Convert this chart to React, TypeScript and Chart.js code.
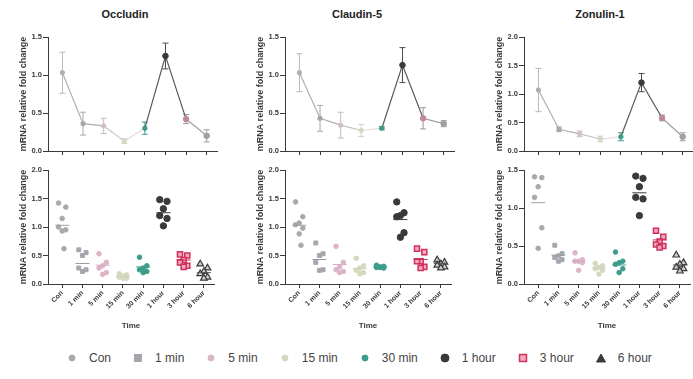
import React, { useEffect, useRef } from "react";
import { Chart, registerables } from "chart.js";
Chart.register(...registerables);

const FONT = "'Liberation Sans', Arial, sans-serif";
Chart.defaults.font.family = FONT;

const CATEGORIES = ["Con", "1 min", "5 min", "15 min", "30 min", "1 hour", "3 hour", "6 hour"];
const GENES = ["Occludin", "Claudin-5", "Zonulin-1"];
const Y_TITLE = "mRNA relative fold change";
const X_TITLE = "Time";

// Top panels: mean and error (line with error bars)
const OCC_MEAN = [1.03, 0.36, 0.33, 0.13, 0.3, 1.25, 0.42, 0.2];
const OCC_ERR = [0.27, 0.15, 0.1, 0.03, 0.08, 0.17, 0.06, 0.08];
const CLA_MEAN = [1.03, 0.43, 0.34, 0.27, 0.3, 1.13, 0.43, 0.36];
const CLA_ERR = [0.25, 0.17, 0.17, 0.08, 0.02, 0.23, 0.14, 0.04];
const ZON_MEAN = [1.07, 0.38, 0.3, 0.21, 0.25, 1.2, 0.58, 0.25];
const ZON_ERR = [0.38, 0.04, 0.05, 0.05, 0.07, 0.16, 0.05, 0.07];

// Bottom panels: individual values
const OCC_POINTS = [
  [1.42, 1.35, 1.15, 1.0, 0.95, 0.93, 0.62],
  [0.6, 0.55, 0.5, 0.28, 0.25, 0.22],
  [0.53, 0.38, 0.32, 0.28, 0.2, 0.17],
  [0.18, 0.16, 0.14, 0.12, 0.1, 0.1],
  [0.47, 0.32, 0.28, 0.25, 0.22, 0.2],
  [1.48, 1.45, 1.32, 1.2, 1.15, 1.02],
  [0.52, 0.5, 0.42, 0.38, 0.32, 0.3],
  [0.35, 0.28, 0.22, 0.18, 0.12, 0.1],
];
const CLA_POINTS = [
  [1.44, 1.18, 1.07, 1.04, 0.98, 0.88, 0.68],
  [0.72, 0.53, 0.5, 0.38, 0.25, 0.24],
  [0.66, 0.38, 0.3, 0.25, 0.22, 0.2],
  [0.45, 0.32, 0.28, 0.24, 0.2, 0.18],
  [0.33, 0.31, 0.3, 0.29, 0.28, 0.29],
  [1.44, 1.25, 1.2, 1.18, 0.9, 0.82],
  [0.62, 0.56, 0.4, 0.4, 0.3, 0.28],
  [0.42, 0.38, 0.35, 0.33, 0.3, 0.28],
];
const ZON_POINTS = [
  [1.41, 1.4, 1.28, 1.14, 0.74, 0.47],
  [0.51, 0.4, 0.37, 0.35, 0.32, 0.3],
  [0.41, 0.32, 0.3, 0.3, 0.28, 0.18],
  [0.27, 0.24, 0.22, 0.2, 0.18, 0.13],
  [0.42, 0.3, 0.28, 0.26, 0.2, 0.15],
  [1.42, 1.39, 1.28, 1.14, 1.12, 0.9],
  [0.7, 0.62, 0.56, 0.52, 0.5, 0.48],
  [0.38, 0.28, 0.26, 0.22, 0.2, 0.17],
];

const TOP_Y_MAX = [1.5, 1.5, 2.0];
const BOTTOM_Y_MAX = [2.0, 2.0, 1.5];

// styles
const AXIS = "#3a3a3a";
type Sty = { shape: string; r: number; fill: string; stroke: string; bw: number };
const STYLES: Sty[] = [
  { shape: "circle", r: 2.3, fill: "#a9a9a9", stroke: "#a9a9a9", bw: 1 },
  { shape: "rect", r: 2.8, fill: "#a6a6ae", stroke: "#a6a6ae", bw: 1 },
  { shape: "circle", r: 2.3, fill: "#dcb4c8", stroke: "#dcb4c8", bw: 1 },
  { shape: "circle", r: 2.3, fill: "#d6d8c0", stroke: "#d6d8c0", bw: 1 },
  { shape: "circle", r: 2.3, fill: "#3c9c8c", stroke: "#3c9c8c", bw: 1 },
  { shape: "circle", r: 3.2, fill: "#3a3a3a", stroke: "#3a3a3a", bw: 1 },
  { shape: "rect", r: 3.6, fill: "#f2a8bd", stroke: "#d0305c", bw: 1.5 },
  { shape: "triangle", r: 3.8, fill: "#cfcfcf", stroke: "#3a3a3a", bw: 1.2 },
];
const TOP_POINT_COLORS = ["#b0b0b0", "#a6a6ae", "#d0c0c8", "#d6d8c0", "#3c9c8c", "#3a3a3a", "#c08898", "#a0a0a0"];
const MEAN_COLORS = ["#a0a0a0", "#9a9aa2", "#d4a8bc", "#cfd0b8", "#3c9c8c", "#3a3a3a", "#d0305c", "#555555"];
const SEG_COLORS = ["#b0b0b0", "#b0b0b0", "#c4c4c4", "#ead8de", "#5a5a5a", "#5a5a5a", "#a0a0a0"];
const ERR_COLORS = ["#b8b8b8", "#a8a8b0", "#c8b8c0", "#d0d0c4", "#3c9c8c", "#4a4a4a", "#9a9a9a", "#a0a0a0"];
const JITTER = [-0.18, 0.18, 0, -0.18, 0.18, 0, 0.09];

const COL_LEFT = [18, 255, 494];
const Y_AXIS_W = 30;
const CANVAS_W = 204;

function xScale(showLabels: boolean, height: number) {
  return {
    type: "linear",
    min: -0.7,
    max: 7.5,
    afterBuildTicks: (s: any) => {
      s.ticks = CATEGORIES.map((_, i) => ({ value: i }));
    },
    afterFit: (s: any) => {
      s.height = height;
    },
    ticks: {
      display: showLabels,
      autoSkip: false,
      minRotation: 45,
      maxRotation: 45,
      padding: 1,
      color: AXIS,
      font: { size: 7, weight: "bold" },
      callback: (v: any) => CATEGORIES[v],
    },
    grid: { drawOnChartArea: false, drawTicks: true, tickLength: 4, color: AXIS, lineWidth: 1 },
    border: { display: true, color: AXIS, width: 1 },
    title: {
      display: showLabels,
      text: X_TITLE,
      color: AXIS,
      font: { size: 8, weight: "bold" },
      padding: { top: 4, bottom: 6 },
    },
  };
}

function yScale(max: number) {
  return {
    min: 0,
    max,
    afterFit: (s: any) => {
      s.width = Y_AXIS_W;
    },
    ticks: {
      stepSize: 0.5,
      padding: 1,
      color: AXIS,
      font: { size: 7.5, weight: "bold" },
      callback: (v: any) => Number(v).toFixed(1),
    },
    grid: { drawOnChartArea: false, drawTicks: true, tickLength: 5, color: AXIS, lineWidth: 1 },
    border: { display: true, color: AXIS, width: 1 },
    title: {
      display: true,
      text: Y_TITLE,
      color: AXIS,
      font: { size: 9, weight: "bold" },
      padding: { top: 0, bottom: 0 },
    },
  };
}

function errorBarPlugin(errs: number[]) {
  return {
    id: "errorBars",
    beforeDatasetsDraw(chart: any) {
      const meta = chart.getDatasetMeta(0);
      const y = chart.scales.y;
      const ctx = chart.ctx;
      const data = chart.data.datasets[0].data;
      ctx.save();
      ctx.lineWidth = 1;
      meta.data.forEach((pt: any, i: number) => {
        const v = data[i].y;
        const top = y.getPixelForValue(v + errs[i]);
        const bot = y.getPixelForValue(Math.max(0, v - errs[i]));
        ctx.strokeStyle = ERR_COLORS[i];
        ctx.beginPath();
        ctx.moveTo(pt.x, top);
        ctx.lineTo(pt.x, bot);
        ctx.moveTo(pt.x - 3, top);
        ctx.lineTo(pt.x + 3, top);
        ctx.moveTo(pt.x - 3, bot);
        ctx.lineTo(pt.x + 3, bot);
        ctx.stroke();
      });
      ctx.restore();
    },
  };
}

function topConfig(means: number[], errs: number[], yMax: number): any {
  return {
    type: "scatter",
    data: {
      datasets: [
        {
          label: "mean",
          data: means.map((m, i) => ({ x: i, y: m })),
          showLine: true,
          borderWidth: 1.2,
          borderColor: "#999",
          segment: { borderColor: (c: any) => SEG_COLORS[c.p0DataIndex] },
          pointStyle: "circle",
          pointRadius: STYLES.map((s) => (s.r > 3 ? 2.8 : 2.2)),
          pointBackgroundColor: TOP_POINT_COLORS,
          pointBorderColor: TOP_POINT_COLORS,
          pointBorderWidth: 1,
        },
      ],
    },
    options: {
      responsive: false,
      animation: false,
      events: [],
      layout: { padding: { top: 37, left: 0, right: 4, bottom: 4 } },
      plugins: { legend: { display: false }, tooltip: { enabled: false }, title: { display: false } },
      scales: { x: xScale(false, 5), y: yScale(yMax) },
    },
    plugins: [errorBarPlugin(errs)],
  };
}

function bottomConfig(points: number[][], means: number[], yMax: number): any {
  const datasets: any[] = [
    {
      label: "mean",
      data: means.map((m, i) => ({ x: i, y: m })),
      pointStyle: "line",
      pointRadius: 7,
      pointBorderColor: MEAN_COLORS,
      pointBorderWidth: 1,
    },
  ];
  points.forEach((vals, i) => {
    const s = STYLES[i];
    datasets.push({
      label: CATEGORIES[i],
      data: vals.map((v, k) => ({ x: i + JITTER[k % JITTER.length], y: v })),
      pointStyle: s.shape,
      pointRadius: s.r,
      pointBackgroundColor: s.fill,
      pointBorderColor: s.stroke,
      pointBorderWidth: s.bw,
    });
  });
  return {
    type: "scatter",
    data: { datasets },
    options: {
      responsive: false,
      animation: false,
      events: [],
      layout: { padding: { top: 8, left: 0, right: 4, bottom: 0 } },
      plugins: { legend: { display: false }, tooltip: { enabled: false } },
      scales: { x: xScale(true, 53), y: yScale(yMax) },
    },
  };
}

function ChartCanvas({ make, left, top, width, height }: any) {
  const ref = useRef<HTMLCanvasElement>(null);
  useEffect(() => {
    const chart = new Chart(ref.current as HTMLCanvasElement, make());
    return () => chart.destroy();
  }, []);
  return (
    <canvas
      ref={ref}
      width={width}
      height={height}
      style={{ position: "absolute", left, top, width, height, display: "block" }}
    />
  );
}

function Marker({ i }: { i: number }) {
  const s = STYLES[i];
  let shape: any;
  if (s.shape === "rect") shape = <rect x={1.5} y={1.5} width={7} height={7} fill={s.fill} stroke={s.stroke} strokeWidth={s.bw} />;
  else if (s.shape === "triangle") shape = <polygon points="5,1 9.5,9 0.5,9" fill={s.stroke} stroke={s.stroke} strokeWidth={1} />;
  else shape = <circle cx={5} cy={5} r={i === 5 ? 4 : 3} fill={s.fill} stroke={s.stroke} strokeWidth={1} />;
  return (
    <svg width={10} height={10} style={{ display: "block", marginRight: 12 }}>
      {shape}
    </svg>
  );
}

const MEANS = [OCC_MEAN, CLA_MEAN, ZON_MEAN];
const ERRS = [OCC_ERR, CLA_ERR, ZON_ERR];
const POINTS = [OCC_POINTS, CLA_POINTS, ZON_POINTS];
const TITLE_CENTERS = [125, 357, 600];

export default function App() {
  return (
    <div
      style={{
        position: "absolute",
        left: 0,
        top: 0,
        width: 693,
        height: 379,
        overflow: "hidden",
        background: "#fff",
        fontFamily: FONT,
      }}
    >
      {GENES.map((g, c) => (
        <React.Fragment key={g}>
          <div
            style={{
              position: "absolute",
              left: TITLE_CENTERS[c] - 60,
              width: 120,
              top: 6,
              textAlign: "center",
              fontWeight: "bold",
              fontSize: 11,
              lineHeight: "16px",
              color: "#222",
            }}
          >
            {g}
          </div>
          <ChartCanvas
            make={() => topConfig(MEANS[c], ERRS[c], TOP_Y_MAX[c])}
            left={COL_LEFT[c]}
            top={0}
            width={CANVAS_W}
            height={160}
          />
          <ChartCanvas
            make={() => bottomConfig(POINTS[c], MEANS[c], BOTTOM_Y_MAX[c])}
            left={COL_LEFT[c]}
            top={162}
            width={CANVAS_W}
            height={175}
          />
        </React.Fragment>
      ))}
      <div
        style={{
          position: "absolute",
          left: 67,
          top: 350,
          height: 16,
          display: "flex",
          alignItems: "center",
          gap: 22,
          fontSize: 12,
          color: "#444",
          whiteSpace: "nowrap",
        }}
      >
        {CATEGORIES.map((cat, i) => (
          <div key={cat} style={{ display: "flex", alignItems: "center" }}>
            <Marker i={i} />
            <span>{cat}</span>
          </div>
        ))}
      </div>
    </div>
  );
}
